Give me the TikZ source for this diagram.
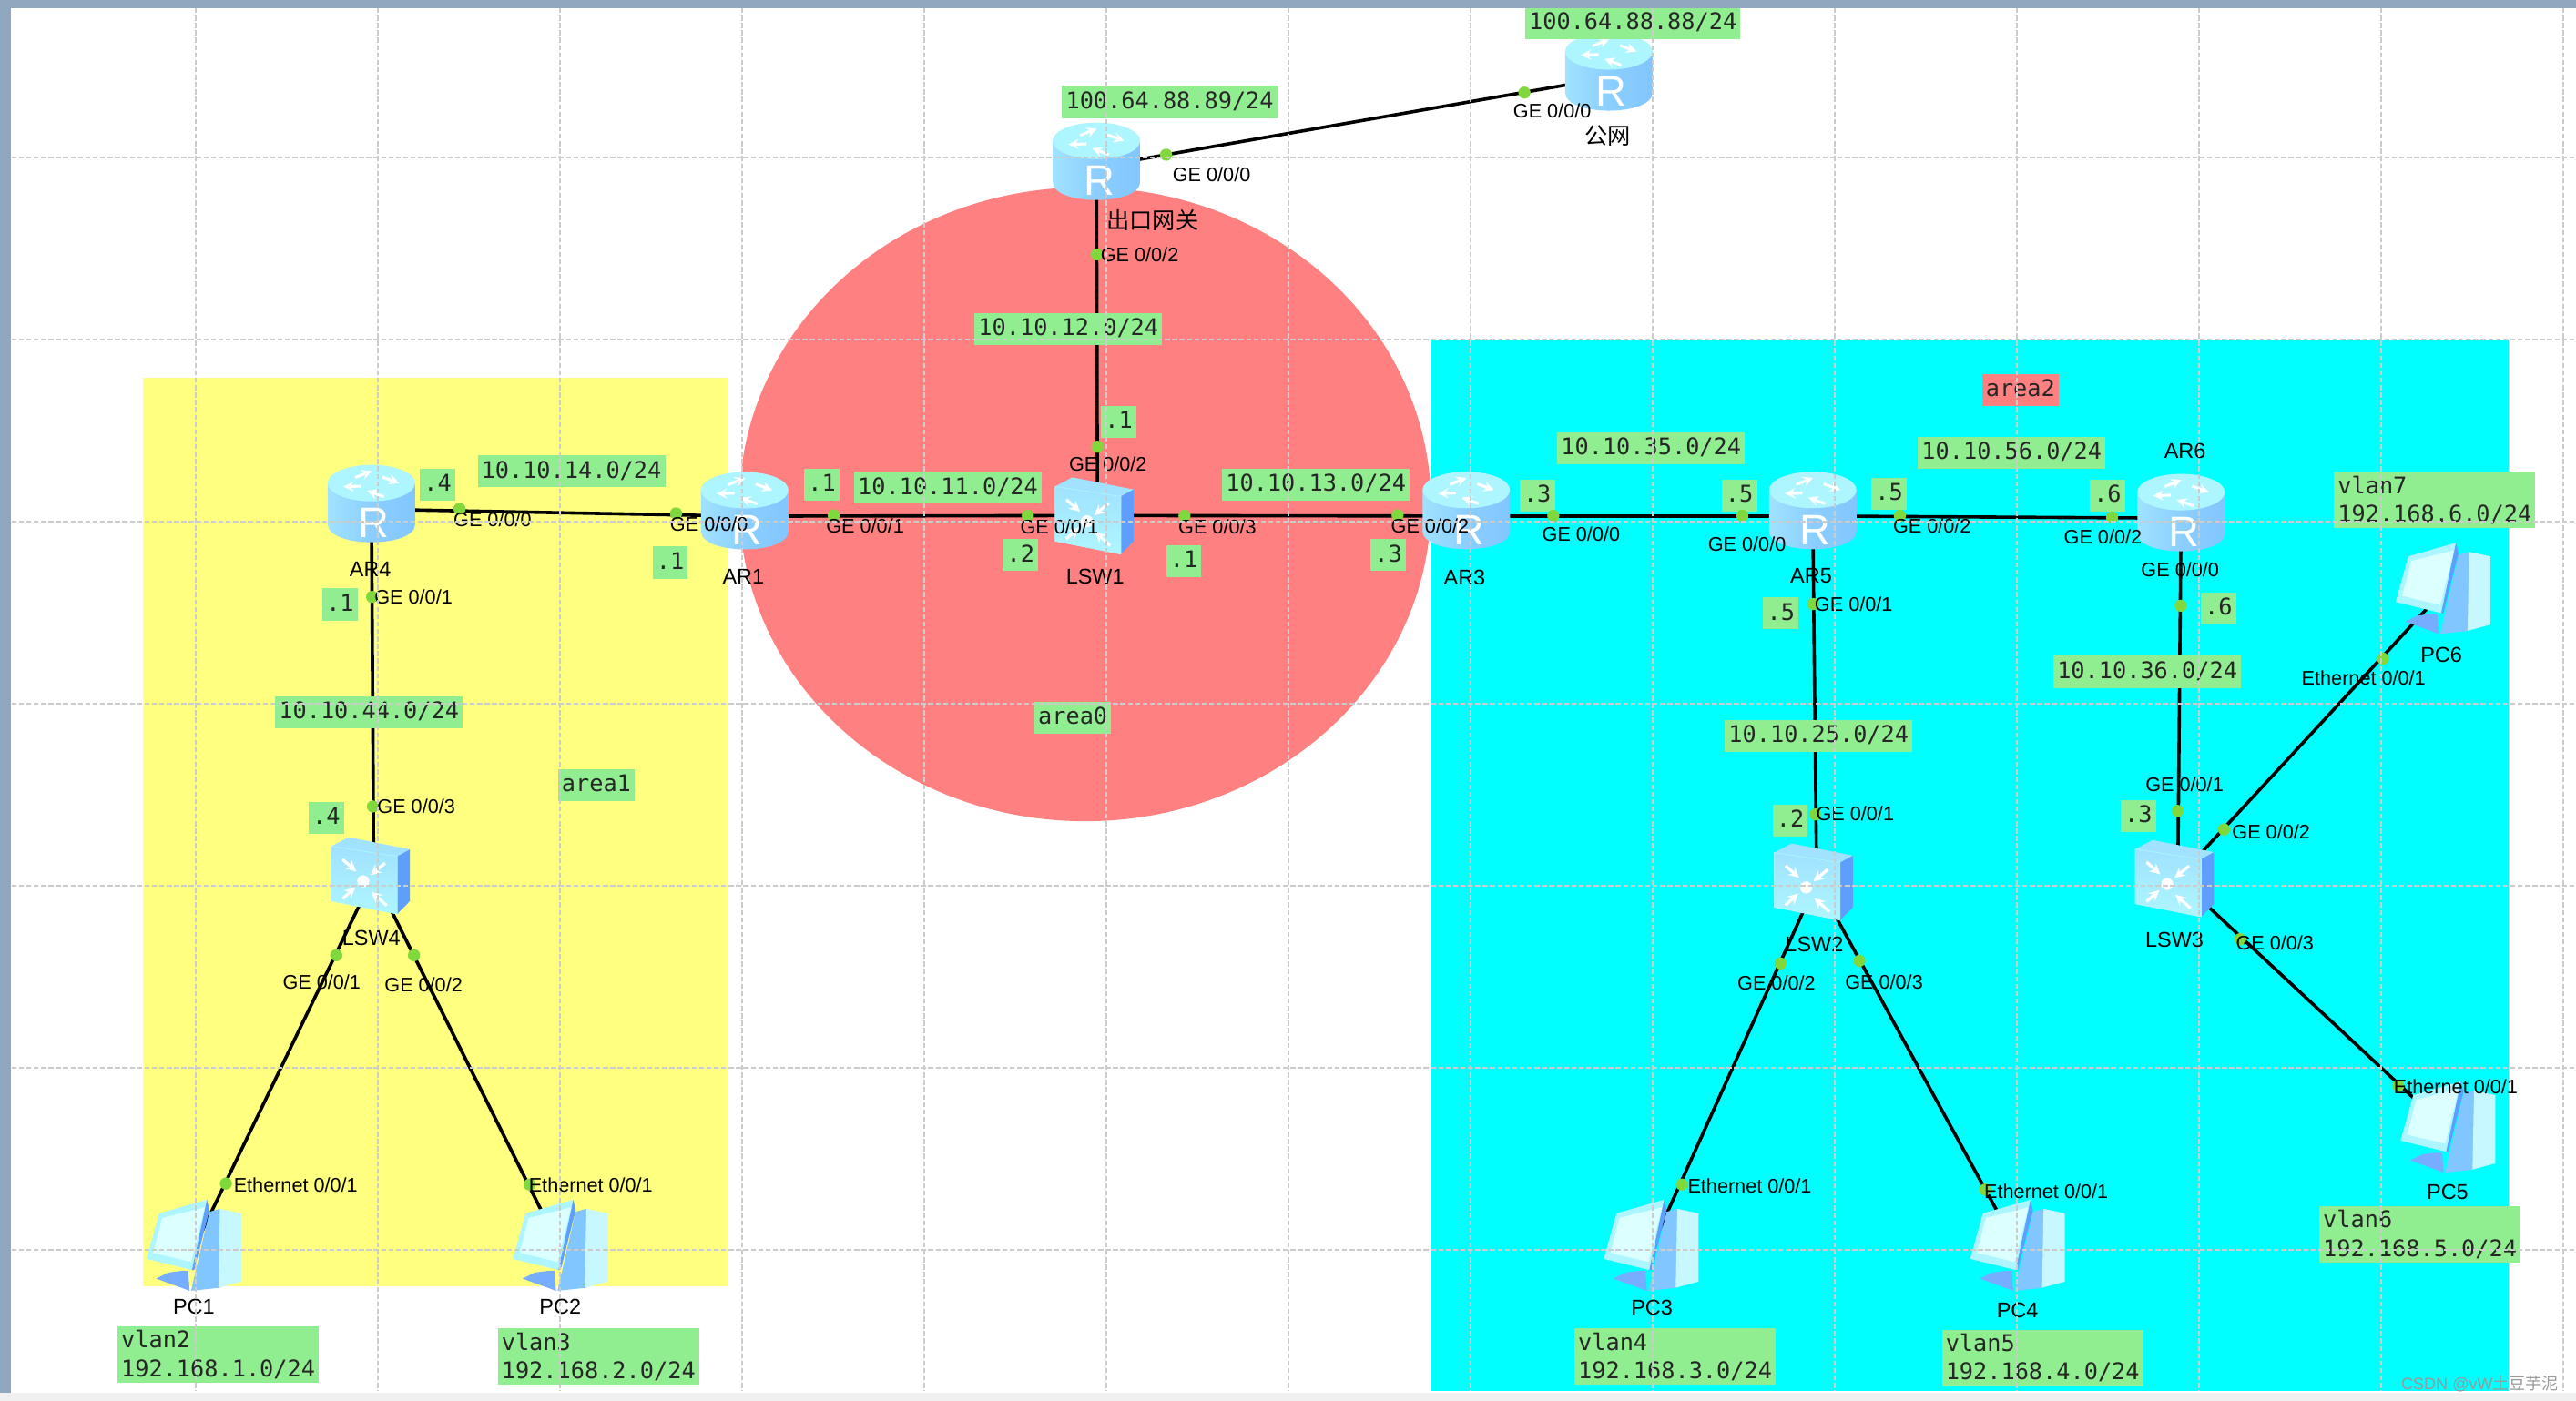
\documentclass[tikz,border=0pt]{standalone}
\usepackage{fontspec}
\setmainfont{Liberation Sans}
\newfontfamily\ipfont{DejaVu Sans Mono}
\newfontfamily\cjkfont{Noto Sans CJK SC}
\definecolor{ipgreen}{HTML}{90EE90}
\definecolor{areayellow}{HTML}{FFFF80}
\definecolor{areared}{HTML}{FF8080}
\definecolor{areacyan}{HTML}{00FFFF}
\definecolor{portgreen}{HTML}{80D83C}
\definecolor{framebar}{HTML}{8FA8C0}
\definecolor{iconside}{HTML}{82C6FF}
\definecolor{iconmid}{HTML}{A0E2FF}
\definecolor{icontop}{HTML}{AEF6FF}
\definecolor{iconblue}{HTML}{5E9EFF}
\definecolor{iconlight}{HTML}{C8F8FF}
\definecolor{iconpale}{HTML}{DCFFFF}
\tikzset{
	ipbox/.style={fill=ipgreen,font=\fontsize{14}{17.4}\selectfont\ipfont,text=black!85,inner xsep=2.3pt,inner ysep=3.25pt,text height=10.5pt,text depth=2.5pt},
	vlanbox/.style={fill=ipgreen,font=\fontsize{14}{17.4}\selectfont\ipfont,text=black!85,inner xsep=2.3pt,inner ysep=2.5pt,align=left},
	portdot/.style={circle,fill=portgreen,inner sep=0pt,minimum size=7.4pt},
	porttext/.style={font=\fontsize{12}{14}\selectfont,inner sep=0pt},
	devname/.style={font=\fontsize{13}{15}\selectfont,inner sep=0pt},
	devnode/.style={inner sep=0pt,minimum size=1pt},
	link/.style={line width=2pt,black},
	gridline/.style={black!20,line width=.8pt,dash pattern=on 3pt off 1.5pt},
	routericon/.pic={
		\begin{scope}[xshift=-37.7pt,yshift=32.5pt,x=.1848pt,y=-.1848pt]
			\shade[left color=iconmid,right color=iconside,middle color=iconside!70!iconmid] (60,90)--(60,225) .. controls (60,305) and (348,305) .. (348,225)--(348,90)--cycle;
			\fill[icontop] (204,90) ellipse [x radius=144,y radius=60];
			\draw[white,line width=1.7pt,->] (170,100)--(112,102);
			\draw[white,line width=1.7pt,->] (150,72)--(205,50);
			\draw[white,line width=1.7pt,->] (240,70)--(295,90);
			\draw[white,line width=1.7pt,->] (245,135)--(190,115);
			\node[text=white,inner sep=0pt,font=\fontsize{26}{26}\selectfont] (rmark) at (213,222) {R};
		\end{scope}
	},
	switchicon/.pic={
		\begin{scope}[xshift=-50.4pt,yshift=44.5pt,x=.1848pt,y=-.1848pt]
			\fill[iconmid] (133,145)--(190,115)--(392,155)--(350,178)--cycle;
			\fill[iconblue] (350,178)--(392,155)--(392,325)--(350,368)--cycle;
			\shade[top color=iconmid,bottom color=icontop,draw=icontop] (133,145)--(350,178)--(350,368)--(133,325)--cycle;
			\foreach \ax/\ay/\bx/\by in {170/188/215/228,310/200/262/240,170/318/212/280,315/340/265/295}
				\draw[white,line width=1.8pt,->] (\ax,\ay)--(\bx,\by);
			\fill[white] (238,260) circle [radius=20];
		\end{scope}
	},
	pcicon/.pic={
		\begin{scope}[xshift=-46pt,yshift=38.8pt,x=.1848pt,y=-.1848pt]
			\fill[iconblue!85!white] (205,285)--(230,285)--(235,350)--(125,310)--(165,290)--cycle;
			\fill[iconside] (300,90)--(335,80)--(335,340)--(240,350)--cycle;
			\fill[iconlight] (335,80)--(405,95)--(405,320)--(330,340)--cycle;
			\fill[icontop] (135,95)--(292,50)--(245,282)--(93,245)--cycle;
			\fill[iconpale] (145,110)--(285,75)--(240,255)--(115,225)--cycle;
			\fill[iconblue] (292,50)--(300,85)--(250,282)--(243,282)--cycle;
		\end{scope}
	}
}
\begin{document}
\begin{tikzpicture}[x=1pt,y=-1pt,>=stealth,line join=round]
	\useasboundingbox (0,0) rectangle (1568,853);
	\fill[white] (0,0) rectangle (1568,853);
	% areas
	\fill[areayellow] (87,230) rectangle (443.5,783);
	\fill[areared] (660.5,307) ellipse [x radius=210.5,y radius=193];
	\fill[areacyan] (871,207) rectangle (1527,847);
	% devices
	\foreach \nm/\px/\py in {gate/667.4/101.6,pub/979.3/47.2,ar4/226.1/310,ar1/453.3/314.3,ar3/892.5/314.2,ar5/1103.4/314.2,ar6/1327.6/315.5,lsw1/668/313.9,lsw4/227.5/533,lsw2/1105.8/536.8,lsw3/1325.6/534.7,pc1/118/760,pc2/341/760,pc3/1005/760,pc4/1228/760,pc5/1490/688,pc6/1487/360}
		\node[devnode] (\nm) at (\px,\py) {};
	% links
	\foreach \u/\v in {gate/pub,gate/lsw1,ar4/ar1,ar1/lsw1,lsw1/ar3,ar3/ar5,ar5/ar6,ar4/lsw4,ar5/lsw2,ar6/lsw3,lsw4/pc1,lsw4/pc2,lsw2/pc3,lsw2/pc4,lsw3/pc5,lsw3/pc6}
		\draw[link] (\u) -- (\v);
	\foreach \nm in {gate,pub,ar4,ar1,ar3,ar5,ar6}
		\pic at (\nm) {routericon};
	\foreach \nm in {lsw1,lsw4,lsw2,lsw3}
		\pic at (\nm) {switchicon};
	\foreach \nm in {pc1,pc2,pc3,pc4,pc5,pc6}
		\pic at (\nm) {pcicon};
	% device names
	\foreach \nm/\px/\py/\txt in {nar4/225.4/346.8/AR4,nar1/452.5/351/AR1,nar3/891.5/351.4/AR3,nar5/1102.4/350.8/AR5,nar6/1330/274.4/AR6,nlsw1/666.6/351/LSW1,nlsw4/226/571/LSW4,nlsw2/1104.3/575/LSW2,nlsw3/1323.6/572.4/LSW3,npc1/118/795.5/PC1,npc2/341/795.5/PC2,npc3/1005.5/796.4/PC3,npc4/1228/797.7/PC4,npc5/1489.8/725.8/PC5,npc6/1486/398.5/PC6}
		\node[devname] (\nm) at (\px,\py) {\txt};
	\node[devname,font=\fontsize{14}{16}\selectfont\cjkfont] (ngate) at (701.6,134.3) {出口网关};
	\node[devname,font=\fontsize{14}{16}\selectfont\cjkfont] (npub) at (978.8,82.4) {公网};
	% ip labels
	\foreach \nm/\px/\py/\txt in {b1/993.9/13.9/{100.64.88.88/24},b2/712/62.1/{100.64.88.89/24},b3/650.3/200.5/{10.10.12.0/24},b4/347.8/287/{10.10.14.0/24},b5/577/297/{10.10.11.0/24},b6/801/295/{10.10.13.0/24},b7/1005/273/{10.10.35.0/24},b8/1224.5/275.8/{10.10.56.0/24},b9/224.6/433.5/{10.10.44.0/24},b10/1307/409/{10.10.36.0/24},b11/1107/448/{10.10.25.0/24},c1/681/257/.1,c2/266.4/295/.4,c3/500.3/295/.1,c4/408/342.5/.1,c5/207/368/.1,c6/198.6/498/.4,c7/621.2/338/.2,c8/720.6/341.5/.1,c9/845/338/.3,c10/935.7/301.8/.3,c11/1058.7/301.8/.5,c12/1149.9/300.5/.5,c13/1282.8/301.8/.6,c14/1084/373.5/.5,c15/1350.4/370.3/.6,c16/1089.7/499.5/.2,c17/1301.6/497/.3,d1/363/478/area1,d2/653/437/area0}
		\node[ipbox] (\nm) at (\px,\py) {\txt};
	\node[ipbox,fill=areared] (d3) at (1229.8,237.3) {area2};
	\foreach \nm/\px/\py/\ta/\tb in {v2/132.8/824.7/vlan2/{192.168.1.0/24},v3/364.3/826/vlan3/{192.168.2.0/24},v4/1019.6/826/vlan4/{192.168.3.0/24},v5/1243.3/826.7/vlan5/{192.168.4.0/24},v6/1473/751.5/vlan6/{192.168.5.0/24},v7/1482/304.5/vlan7/{192.168.6.0/24}}
		\node[vlanbox] (\nm) at (\px,\py) {\ta\\\tb};
	% ports
	\foreach \nm/\dx/\dy/\lx/\ly/\txt in {g1/709.8/94.2/737.5/106.4/{GE 0/0/0},g2/667.7/154.9/693.7/155.2/{GE 0/0/2},w1/927.9/56.4/944.8/67.5/{GE 0/0/0},aa/279.7/309.8/299.8/316.3/{GE 0/0/0},ab/226.5/363.4/251.7/363.4/{GE 0/0/1},ac/411.5/312.6/431.6/319.3/{GE 0/0/0},ad/507.4/313.7/526.6/320.4/{GE 0/0/1},sa/668/272/674.4/282.7/{GE 0/0/2},sb/625.6/314/644.8/320.6/{GE 0/0/1},sc/721/314/741/320.6/{GE 0/0/3},ae/850.7/313.7/870.4/320.5/{GE 0/0/2},af/945.5/314/962.4/325/{GE 0/0/0},ag/1060.6/314/1063.4/331.5/{GE 0/0/0},ah/1156.4/314/1176/320.2/{GE 0/0/2},ai/1285.6/315/1280/327/{GE 0/0/2},aj/1327.4/368.8/1327/347/{GE 0/0/0},ak/1103.8/367.8/1128.3/368/{GE 0/0/1},sd/1105/495.9/1129.2/495.6/{GE 0/0/1},se/1083.8/586.6/1081.3/598.6/{GE 0/0/2},sf/1131.8/585/1146.8/597.7/{GE 0/0/3},sg/1325.5/493.7/1329.7/477.8/{GE 0/0/1},sh/1353.7/505/1382.4/506.5/{GE 0/0/2},si/1363.6/571.8/1384.7/574/{GE 0/0/3},sj/227/491/253.4/491/{GE 0/0/3},sk/204.7/581.6/195.8/597.7/{GE 0/0/1},sl/252/581.6/257.8/599.6/{GE 0/0/2},ea/137.5/720.6/180/721.7/{Ethernet 0/0/1},eb/322.3/721.2/359.6/721.7/{Ethernet 0/0/1},ec/1023.8/721.2/1065/721.9/{Ethernet 0/0/1},ed/1208.4/724.3/1245.5/725.2/{Ethernet 0/0/1},ee/1459.8/661/1494.8/661.8/{Ethernet 0/0/1},ef/1450.5/401/1438.7/412.7/{Ethernet 0/0/1}}{
		\node[portdot] (dot\nm) at (\dx,\dy) {};
		\node[porttext] (txt\nm) at (\lx,\ly) {\txt};
	}
	\node[text=black!40,inner sep=0pt,font=\fontsize{10}{12}\selectfont] (mark) at (1509.5,842.6) {CSDN @vW{\cjkfont 土豆芋泥}};
	% grid and window frame
	\foreach \k in {0,...,13}
		\draw[gridline] (119.2+110.85*\k,5)--(119.2+110.85*\k,847);
	\foreach \k in {0,...,6}
		\draw[gridline] (7,95.9+110.85*\k)--(1568,95.9+110.85*\k);
	\fill[framebar] (0,0) rectangle (1568,5);
	\fill[framebar] (0,0) rectangle (6.6,848);
	\fill[black!6] (0,848) rectangle (1568,853);
\end{tikzpicture}
\end{document}
